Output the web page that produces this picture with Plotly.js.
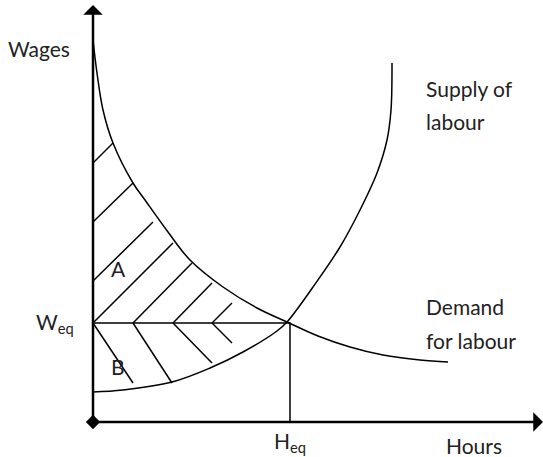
<!DOCTYPE html>
<html>
<head>
<meta charset="utf-8">
<script src="https://cdn.plot.ly/plotly-3.0.1.min.js"></script>
<style>html,body{margin:0;padding:0;background:#fff;}#chart{width:543px;height:457px;}</style>
</head>
<body>
<div id="chart"></div>
<script>
// Demand for labour curve (hours, wages)
const demandHours = [0, 4, 10, 20, 40, 52, 75, 97, 130, 164, 194, 225, 257, 290, 327, 355];
const demandWages = [382, 349, 312, 279, 239, 222, 190, 162, 135, 114, 100, 86, 75, 67, 62, 60];
// Supply of labour curve (hours, wages)
const supplyHours = [0, 30, 79, 117, 150, 184, 194, 220, 247, 267, 284, 294, 298, 299];
const supplyWages = [30, 32, 40, 54, 70, 91, 100, 135, 175, 212, 249, 282, 312, 359];
// Equilibrium
const Heq = 197;
const Weq = 99;
// Hatching of area A (start hours, start wages, end hours, end wages)
const hatchA_x0 = [0, 0, 0, 0, 40, 80, 119];
const hatchA_y0 = [259, 200, 141, 99, 99, 99, 99];
const hatchA_x1 = [20, 40, 60, 80, 99, 119, 139];
const hatchA_y1 = [279, 239, 200, 179, 159, 139, 119];
// Hatching of area B
const hatchB_x0 = [0, 40, 80, 119];
const hatchB_y0 = [99, 99, 99, 99];
const hatchB_x1 = [40, 79, 119, 139];
const hatchB_y1 = [39, 39, 59, 79];
// Labels
const labelTexts = ["Wages", "Supply of", "labour", "Demand", "for labour", "Hours", "A", "B"];
const labelX = [-87, 331, 331, 331, 331, 351, 16, 16];
const labelY = [374, 334, 301, 116, 82, -23, 154, 56];

function segs(x0, y0, x1, y1) {
  const xs = [], ys = [];
  for (let i = 0; i < x0.length; i++) {
    xs.push(x0[i], x1[i], null);
    ys.push(y0[i], y1[i], null);
  }
  return {xs, ys};
}
const hA = segs(hatchA_x0, hatchA_y0, hatchA_x1, hatchA_y1);
const hB = segs(hatchB_x0, hatchB_y0, hatchB_x1, hatchB_y1);

const black = '#000';
const traces = [
  {x: demandHours, y: demandWages, mode: 'lines', line: {color: black, width: 1.5, shape: 'spline', smoothing: 1}, hoverinfo: 'skip'},
  {x: supplyHours, y: supplyWages, mode: 'lines', line: {color: black, width: 1.5, shape: 'spline', smoothing: 1}, hoverinfo: 'skip'},
  {x: [0, Heq, Heq], y: [Weq, Weq, 0], mode: 'lines', line: {color: black, width: 1.5}, hoverinfo: 'skip'},
  {x: hA.xs, y: hA.ys, mode: 'lines', line: {color: black, width: 1.5}, connectgaps: false, hoverinfo: 'skip'},
  {x: hB.xs, y: hB.ys, mode: 'lines', line: {color: black, width: 1.5}, connectgaps: false, hoverinfo: 'skip'},
  {x: [0], y: [0], mode: 'markers', marker: {symbol: 'diamond', size: 11, color: black}, cliponaxis: false, hoverinfo: 'skip'}
];

const font = {family: 'Lato, Calibri, sans-serif', size: 21, color: '#222'};
const annotations = [];
for (let i = 0; i < labelTexts.length; i++) {
  annotations.push({x: labelX[i], y: labelY[i], xref: 'x', yref: 'y', text: labelTexts[i], showarrow: false, xanchor: 'left', yanchor: 'middle', font: font});
}
annotations.push({x: -59, y: Weq, xref: 'x', yref: 'y', text: 'W<sub>eq</sub>', showarrow: false, xanchor: 'left', yanchor: 'middle', font: font});
annotations.push({x: 179, y: -20, xref: 'x', yref: 'y', text: 'H<sub>eq</sub>', showarrow: false, xanchor: 'left', yanchor: 'middle', font: font});
// axes with arrows
annotations.push({x: 0, y: 417, ax: 0, ay: 0, xref: 'x', yref: 'y', axref: 'x', ayref: 'y', text: '', showarrow: true, arrowhead: 1, arrowsize: 1.3, arrowwidth: 2.5, arrowcolor: black});
annotations.push({x: 450, y: 0, ax: 0, ay: 0, xref: 'x', yref: 'y', axref: 'x', ayref: 'y', text: '', showarrow: true, arrowhead: 1, arrowsize: 1.3, arrowwidth: 2.5, arrowcolor: black});

const axisCommon = {showgrid: false, zeroline: false, showticklabels: false, showline: false, ticks: '', fixedrange: true};
const layout = {
  width: 543, height: 457,
  margin: {l: 0, r: 0, t: 0, b: 0},
  paper_bgcolor: '#fff', plot_bgcolor: '#fff',
  showlegend: false,
  xaxis: Object.assign({range: [-93, 450]}, axisCommon),
  yaxis: Object.assign({range: [-35, 422]}, axisCommon),
  annotations: annotations
};
Plotly.newPlot('chart', traces, layout, {staticPlot: true, displayModeBar: false});
</script>
</body>
</html>
